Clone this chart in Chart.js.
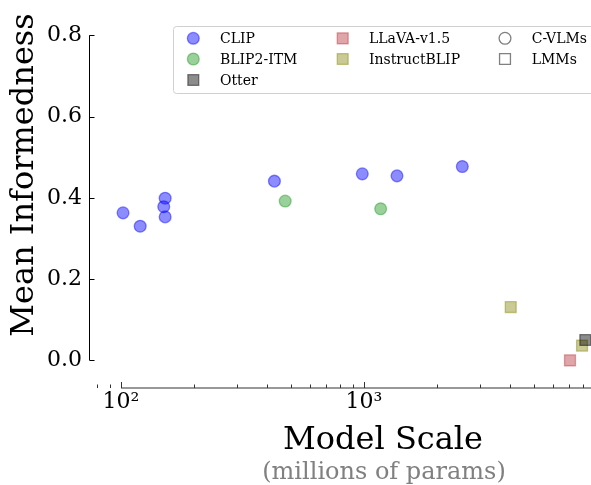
<!DOCTYPE html>
<html><head><meta charset="utf-8">
<script src="https://cdn.jsdelivr.net/npm/chart.js@4.4.1/dist/chart.umd.min.js"></script>
<style>html,body{margin:0;padding:0;background:#fff;overflow:hidden}#wrap{width:591px;height:485px;position:relative}</style>
</head><body><div id="wrap"><canvas id="c"></canvas></div>
<script>
// ---- data ----
const clipScale = [102, 120, 152, 150, 152, 428, 984, 1367, 2538];
const clipInformedness = [0.363, 0.330, 0.399, 0.378, 0.353, 0.441, 0.459, 0.454, 0.477];
const blip2Scale = [474, 1171];
const blip2Informedness = [0.392, 0.373];
const otterScale = [8140];
const otterInformedness = [0.050];
const llavaScale = [7040];
const llavaInformedness = [0.000];
const instructScale = [4015, 7890];
const instructInformedness = [0.131, 0.036];
const seriesNames = ['CLIP', 'BLIP2-ITM', 'Otter', 'LLaVA-v1.5', 'InstructBLIP'];
const typeNames = ['C-VLMs', 'LMMs'];
const xTickValues = [80, 90, 100, 200, 300, 400, 500, 600, 700, 800, 900, 1000, 2000, 3000, 4000, 5000, 6000, 7000, 8000, 9000, 10000];
const xMajorLabels = {100: '10²', 1000: '10³', 10000: '10⁴'};
const yTickValues = [0, 0.2, 0.4, 0.6, 0.8];
const yTickLabels = ['0.0', '0.2', '0.4', '0.6', '0.8'];
const xTitle = 'Model Scale';
const xSubtitle = '(millions of params)';
const yTitle = 'Mean Informedness';

const FONT = '"DejaVu Serif", "Liberation Serif", serif';
const pts = (xs, ys) => xs.map((x, i) => ({x: x, y: ys[i]}));

const styles = [
  {fill: 'rgba(0,0,255,0.45)', stroke: 'rgba(0,0,255,0.45)', shape: 'circle'},
  {fill: 'rgba(30,150,30,0.45)', stroke: 'rgba(30,150,30,0.45)', shape: 'circle'},
  {fill: 'rgba(0,0,0,0.45)', stroke: 'rgba(0,0,0,0.45)', shape: 'rect'},
  {fill: 'rgba(180,40,50,0.42)', stroke: 'rgba(180,40,50,0.42)', shape: 'rect'},
  {fill: 'rgba(128,128,0,0.42)', stroke: 'rgba(128,128,0,0.42)', shape: 'rect'}
];
const seriesData = [
  pts(clipScale, clipInformedness),
  pts(blip2Scale, blip2Informedness),
  pts(otterScale, otterInformedness),
  pts(llavaScale, llavaInformedness),
  pts(instructScale, instructInformedness)
];

const CIRCLE_R = 5.9, RECT_R = 7.7, BW = 1.3;

const datasets = seriesNames.map((name, i) => ({
  label: name,
  data: seriesData[i],
  pointStyle: styles[i].shape === 'circle' ? 'circle' : 'rect',
  pointRadius: styles[i].shape === 'circle' ? CIRCLE_R : RECT_R,
  pointHoverRadius: styles[i].shape === 'circle' ? CIRCLE_R : RECT_R,
  pointBackgroundColor: styles[i].fill,
  pointBorderColor: styles[i].stroke,
  backgroundColor: styles[i].fill,
  borderColor: styles[i].stroke,
  pointBorderWidth: BW,
  showLine: false,
  clip: false
}));

function drawMarker(ctx, shape, x, y, fill, stroke) {
  ctx.save();
  ctx.beginPath();
  if (shape === 'circle') {
    ctx.arc(x, y, CIRCLE_R, 0, Math.PI * 2);
  } else {
    const s = RECT_R * Math.SQRT1_2;
    ctx.rect(x - s, y - s, 2 * s, 2 * s);
  }
  if (fill) { ctx.fillStyle = fill; ctx.fill(); }
  ctx.lineWidth = BW;
  ctx.strokeStyle = stroke;
  ctx.stroke();
  ctx.restore();
}

const decorPlugin = {
  id: 'decor',
  afterDraw(chart) {
    const ctx = chart.ctx;
    const xs = chart.scales.x, ys = chart.scales.y;
    const area = chart.chartArea;
    ctx.save();
    // y spine (trimmed 0..0.8), offset to the left
    const ySpineX = 89.5;
    ctx.strokeStyle = '#000';
    ctx.lineWidth = 1;
    ctx.beginPath();
    ctx.moveTo(ySpineX, ys.getPixelForValue(yTickValues[0]));
    ctx.lineTo(ySpineX, ys.getPixelForValue(yTickValues[yTickValues.length - 1]));
    ctx.stroke();
    yTickValues.forEach(v => {
      const py = Math.round(ys.getPixelForValue(v)) + 0.5;
      ctx.beginPath();
      ctx.moveTo(ySpineX, py);
      ctx.lineTo(ySpineX + 5, py);
      ctx.stroke();
    });
    // x spine (trimmed from 10^2), offset downward
    const xSpineY = 388;
    ctx.strokeStyle = '#333';
    ctx.lineWidth = 1.1;
    ctx.beginPath();
    ctx.moveTo(xs.getPixelForValue(100), xSpineY);
    ctx.lineTo(area.right + 20, xSpineY);
    ctx.stroke();
    ctx.lineWidth = 1;
    xTickValues.forEach(v => {
      const px = Math.round(xs.getPixelForValue(v)) + 0.5;
      if (px > chart.width + 5) return;
      const major = xMajorLabels[v] !== undefined;
      ctx.beginPath();
      ctx.moveTo(px, xSpineY);
      ctx.lineTo(px, xSpineY - (major ? 6 : 3.5));
      ctx.stroke();
    });
    // axis titles
    ctx.fillStyle = '#000';
    ctx.font = '32px ' + FONT;
    ctx.textAlign = 'center';
    ctx.textBaseline = 'alphabetic';
    ctx.fillText(xTitle, 383, 449);
    ctx.fillStyle = '#808080';
    ctx.font = '24px ' + FONT;
    ctx.fillText(xSubtitle, 384, 479);
    ctx.save();
    ctx.translate(33, 175);
    ctx.rotate(-Math.PI / 2);
    ctx.fillStyle = '#000';
    ctx.font = '32px ' + FONT;
    ctx.fillText(yTitle, 0, 0);
    ctx.restore();

    // legend (3 columns, filled column-wise)
    const lx = 173.5, ly = 26.5, lw = 430, lh = 67;
    ctx.beginPath();
    if (ctx.roundRect) ctx.roundRect(lx, ly, lw, lh, 3); else ctx.rect(lx, ly, lw, lh);
    ctx.fillStyle = 'rgba(255,255,255,0.8)';
    ctx.fill();
    ctx.strokeStyle = '#d0d0d0';
    ctx.lineWidth = 1;
    ctx.stroke();
    const colMarkerX = [193.3, 342.7, 505];
    const colTextX = [220, 369, 531.7];
    const rowY = [38.3, 59, 80];
    const items = seriesNames.map((n, i) => ({label: n, shape: styles[i].shape, fill: styles[i].fill, stroke: styles[i].stroke}));
    items.push({label: typeNames[0], shape: 'circle', fill: null, stroke: '#808080'});
    items.push({label: typeNames[1], shape: 'rect', fill: null, stroke: '#808080'});
    const colOf = [0, 0, 0, 1, 1, 2, 2];
    const rowOf = [0, 1, 2, 0, 1, 0, 1];
    ctx.font = '14px ' + FONT;
    ctx.textAlign = 'left';
    items.forEach((it, i) => {
      const c = colOf[i], r = rowOf[i];
      drawMarker(ctx, it.shape, colMarkerX[c], rowY[r], it.fill, it.stroke);
      ctx.fillStyle = '#000';
      ctx.fillText(it.label, colTextX[c], rowY[r] + 5);
    });
    ctx.restore();
  }
};

new Chart(document.getElementById('c'), {
  type: 'scatter',
  data: {datasets: datasets},
  options: {
    responsive: true,
    maintainAspectRatio: false,
    animation: false,
    events: [],
    layout: {padding: 0, autoPadding: false},
    plugins: {legend: {display: false}, tooltip: {enabled: false}},
    scales: {
      x: {
        type: 'logarithmic',
        min: 78.2,
        max: 8590,
        grid: {display: false, drawTicks: false, tickLength: 0},
        border: {display: false},
        afterBuildTicks: s => { s.ticks = xTickValues.filter(v => v >= s.min).map(v => ({value: v})); },
        afterFit: s => { s.height = 105; s.paddingLeft = 0; s.paddingRight = 0; },
        ticks: {
          autoSkip: false, maxRotation: 0, minRotation: 0, padding: 9,
          color: '#000', font: {family: FONT, size: 22},
          callback: v => xMajorLabels[v] || ''
        }
      },
      y: {
        type: 'linear',
        min: -0.0485,
        max: 0.8869,
        grid: {display: false, drawTicks: false, tickLength: 0},
        border: {display: false},
        afterBuildTicks: s => { s.ticks = yTickValues.map(v => ({value: v})); },
        afterFit: s => { s.width = 95; s.paddingTop = 0; s.paddingBottom = 0; },
        ticks: {
          autoSkip: false, padding: 13,
          color: '#000', font: {family: FONT, size: 22},
          callback: v => { const i = yTickValues.indexOf(v); return i >= 0 ? yTickLabels[i] : ''; }
        }
      }
    }
  },
  plugins: [decorPlugin]
});
</script>
</body></html>
